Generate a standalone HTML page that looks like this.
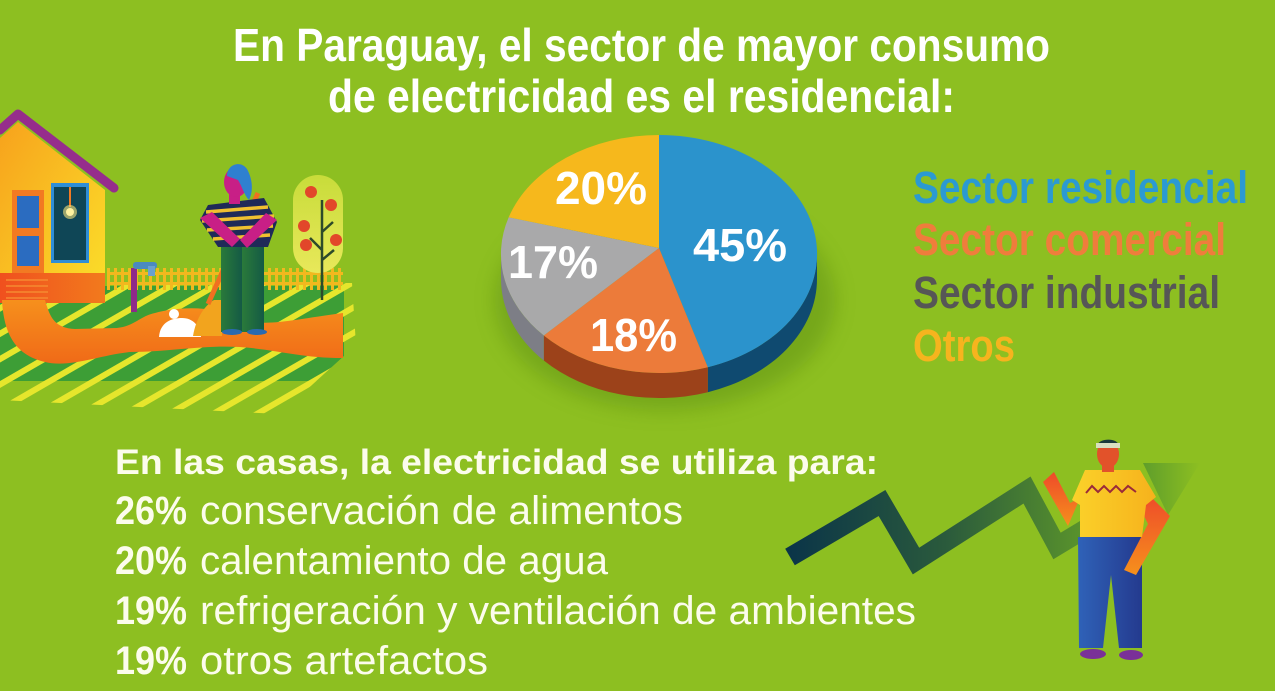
<!DOCTYPE html>
<html><head><meta charset="utf-8"><style>
html,body{margin:0;padding:0;background:#8dbf21;}
svg{display:block;}
text{font-family:"Liberation Sans",sans-serif;}
</style></head><body>
<svg width="1275" height="691" viewBox="0 0 1275 691" xmlns="http://www.w3.org/2000/svg">
<defs>
<linearGradient id="houseG" x1="0" y1="0" x2="1" y2="1"><stop offset="0" stop-color="#f7a21c"/><stop offset="1" stop-color="#fbe02a"/></linearGradient>
<linearGradient id="baseG" x1="0" y1="0" x2="1" y2="0"><stop offset="0" stop-color="#f0501e"/><stop offset="1" stop-color="#f27a1d"/></linearGradient>
<linearGradient id="pathG" x1="0" y1="0" x2="0" y2="1"><stop offset="0" stop-color="#f6901c"/><stop offset="1" stop-color="#f06a18"/></linearGradient>
<linearGradient id="zigG" x1="0" y1="0" x2="1" y2="0"><stop offset="0" stop-color="#0b3548"/><stop offset="0.5" stop-color="#2a5a3c"/><stop offset="1" stop-color="#5f9a2a"/></linearGradient>
<linearGradient id="arrowG" x1="0" y1="0" x2="1" y2="0"><stop offset="0" stop-color="#5a9a2c"/><stop offset="1" stop-color="#8dbf21"/></linearGradient>
<linearGradient id="shirtG" x1="0" y1="0" x2="1" y2="0"><stop offset="0" stop-color="#fbd22a"/><stop offset="1" stop-color="#f6b21c"/></linearGradient>
<linearGradient id="pantsG" x1="0" y1="0" x2="1" y2="0"><stop offset="0" stop-color="#2f62b8"/><stop offset="1" stop-color="#243a8e"/></linearGradient>
<linearGradient id="armG" x1="0" y1="0" x2="0" y2="1"><stop offset="0" stop-color="#ee4a2a"/><stop offset="1" stop-color="#f6901c"/></linearGradient>
<linearGradient id="wpantsG" x1="0" y1="0" x2="1" y2="0"><stop offset="0" stop-color="#2a7a3a"/><stop offset="1" stop-color="#145a45"/></linearGradient>
<linearGradient id="treeG" x1="0" y1="0" x2="0" y2="1"><stop offset="0" stop-color="#c8dc3a"/><stop offset="1" stop-color="#e8e85a"/></linearGradient>
<clipPath id="lawnClip"><polygon points="0,283 352,283 356,345 280,414 0,400"/></clipPath>
<pattern id="stripes" width="22" height="22" patternUnits="userSpaceOnUse" patternTransform="rotate(-30)"><rect width="22" height="22" fill="none"/><rect x="0" y="0" width="22" height="6" fill="#e6e62c"/></pattern>
<pattern id="fence" width="7" height="24" patternUnits="userSpaceOnUse" x="107" y="267"><rect x="0" y="0" width="3" height="24" fill="#f2b81e"/></pattern>
<filter id="blur" x="-20%" y="-20%" width="140%" height="140%"><feGaussianBlur stdDeviation="10"/></filter>
</defs>

<rect width="1275" height="691" fill="#8dbf21"/>

<!-- Title -->
<text x="233" y="61" font-size="46" font-weight="bold" fill="#ffffff" textLength="817" lengthAdjust="spacingAndGlyphs">En Paraguay, el sector de mayor consumo</text>
<text x="328" y="112" font-size="46" font-weight="bold" fill="#ffffff" textLength="627" lengthAdjust="spacingAndGlyphs">de electricidad es el residencial:</text>

<!-- Lawn -->
<g clip-path="url(#lawnClip)">
<rect x="0" y="286" width="344" height="95" fill="#3d9e36"/>
<rect x="0" y="270" width="360" height="150" fill="url(#stripes)"/>
</g>

<!-- Fence -->
<rect x="107" y="268" width="236" height="22" fill="url(#fence)"/>
<rect x="107" y="272" width="236" height="3" fill="#f2b81e"/>
<rect x="107" y="282" width="236" height="3" fill="#f2b81e"/>

<!-- Tree -->
<rect x="293" y="175" width="50" height="98" rx="25" fill="url(#treeG)"/>
<path d="M322,200 L322,300 M322,232 L333,222 M322,250 L310,238 M322,260 L334,250" stroke="#2d4a2a" stroke-width="2.5" fill="none"/>
<g fill="#e2472a">
<circle cx="311" cy="192" r="6"/><circle cx="331" cy="205" r="6"/><circle cx="304" cy="226" r="6"/><circle cx="306" cy="245" r="6"/><circle cx="336" cy="240" r="6"/>
</g>

<!-- Faucet -->
<rect x="131" y="268" width="6" height="44" fill="#8e2a8a"/>
<rect x="133" y="262" width="24" height="7" rx="3" fill="#4a8ac0"/>
<rect x="148" y="266" width="7" height="10" fill="#6aa0d0"/>

<!-- House -->
<polygon points="0,138 18,122 105,190 105,300 0,300" fill="url(#houseG)"/>
<polyline points="0,130 18,114 114,188" fill="none" stroke="#962d8c" stroke-width="9" stroke-linecap="round" stroke-linejoin="round"/>
<rect x="0" y="273" width="105" height="30" fill="url(#baseG)"/>
<g stroke="#f58a30" stroke-width="1.5"><line x1="6" y1="280" x2="48" y2="280"/><line x1="6" y1="286" x2="48" y2="286"/><line x1="6" y1="292" x2="48" y2="292"/><line x1="6" y1="298" x2="48" y2="298"/></g>
<rect x="12" y="190" width="32" height="83" fill="#f27a22"/>
<rect x="17" y="196" width="22" height="32" fill="#2b6cc0"/>
<rect x="17" y="236" width="22" height="30" fill="#2b6cc0"/>
<rect x="51" y="183" width="38" height="80" fill="#2f8ed6"/>
<rect x="54" y="187" width="32" height="73" fill="#0f4656"/>
<line x1="70" y1="187" x2="70" y2="207" stroke="#f27a22" stroke-width="2"/>
<circle cx="70" cy="212" r="7" fill="#f6e27a" opacity="0.6"/>
<circle cx="70" cy="212" r="4" fill="#fff2a0"/>

<!-- Orange path -->
<path d="M2,300 L45,300 C50,318 55,328 75,329 L117,328 C135,326 140,316 155,313 C180,306 215,306 240,318 C262,328 290,320 343,313 L343,358 C300,358 280,350 240,347 C200,345 170,352 130,352 C100,355 70,368 45,362 C20,356 4,340 2,300 Z" fill="url(#pathG)"/>

<!-- White blob & broom pile -->
<path d="M159,337 C160,322 172,318 182,318 C193,318 200,326 201,337 Z" fill="#ffffff"/>
<circle cx="174" cy="314" r="5" fill="#ffffff"/>
<path d="M193,336 C196,318 205,305 214,300 L222,300 L222,336 Z" fill="#f2a41e"/>

<!-- Woman -->
<line x1="258" y1="193" x2="208" y2="304" stroke="#f07020" stroke-width="5"/>
<rect x="221" y="244" width="21" height="88" fill="url(#wpantsG)"/>
<rect x="242" y="244" width="22" height="88" fill="url(#wpantsG)"/>
<ellipse cx="232" cy="332" rx="10" ry="3" fill="#2a6ab0"/>
<ellipse cx="257" cy="332" rx="10" ry="3" fill="#2a6ab0"/>
<path d="M208,205 L264,198 L277,222 L268,247 L218,247 L200,220 Z" fill="#1f2a58"/>
<g stroke="#f0c030" stroke-width="3.5"><line x1="206" y1="212" x2="268" y2="207"/><line x1="202" y1="221" x2="274" y2="216"/><line x1="207" y1="230" x2="273" y2="226"/><line x1="213" y1="239" x2="270" y2="235"/></g>
<path d="M200,218 L232,247 L240,239 L212,212 Z" fill="#c81f86"/>
<path d="M277,220 L247,248 L240,240 L266,213 Z" fill="#c81f86"/>
<rect x="229" y="190" width="11" height="14" fill="#c81f86"/>
<ellipse cx="236" cy="182" rx="12" ry="15" fill="#c81f86"/>
<path d="M227,176 C227,164 241,160 247,169 C252,178 254,190 249,200 C244,195 242,186 238,180 Z" fill="#2f80d0"/>

<!-- Pie shadow -->
<ellipse cx="665" cy="300" rx="170" ry="110" fill="#4a7a10" opacity="0.35" filter="url(#blur)"/>

<!-- Pie sides -->
<path d="M817,254 A158,119 0 0 1 707.8,367.2 L707.8,392.2 A158,119 0 0 0 817,279 Z" fill="#0f4a70"/>
<path d="M707.8,367.2 A158,119 0 0 1 543.8,335.5 L543.8,360.5 A158,119 0 0 0 707.8,392.2 Z" fill="#9c421a"/>
<path d="M543.8,335.5 A158,119 0 0 1 501,254 L501,279 A158,119 0 0 0 543.8,360.5 Z" fill="#7d7e86"/>

<!-- Pie top -->
<path d="M659,248 L659,135 A158,119 0 0 1 707.8,367.2 Z" fill="#2b93cc"/>
<path d="M659,248 L707.8,367.2 A158,119 0 0 1 543.8,335.5 Z" fill="#ec7b3a"/>
<path d="M659,248 L543.8,335.5 A158,119 0 0 1 508.7,217.2 Z" fill="#a9a9aa"/>
<path d="M659,248 L508.7,217.2 A158,119 0 0 1 659,135 Z" fill="#f6b81c"/>

<g font-weight="bold" fill="#ffffff" font-size="46">
<text x="693" y="261" textLength="94" lengthAdjust="spacingAndGlyphs">45%</text>
<text x="555" y="204" textLength="92" lengthAdjust="spacingAndGlyphs">20%</text>
<text x="508" y="278" textLength="90" lengthAdjust="spacingAndGlyphs">17%</text>
<text x="590" y="351" textLength="87" lengthAdjust="spacingAndGlyphs">18%</text>
</g>

<!-- Legend -->
<g font-weight="bold" font-size="45">
<text x="913" y="203" fill="#2b9ad2" textLength="335" lengthAdjust="spacingAndGlyphs">Sector residencial</text>
<text x="913" y="255" fill="#ef7d3c" textLength="313" lengthAdjust="spacingAndGlyphs">Sector comercial</text>
<text x="913" y="308" fill="#565656" textLength="307" lengthAdjust="spacingAndGlyphs">Sector industrial</text>
<text x="913" y="361" fill="#f6b41e" textLength="102" lengthAdjust="spacingAndGlyphs">Otros</text>
</g>

<!-- Bottom text -->
<g fill="#fcfcec">
<text x="115" y="474" font-size="35" font-weight="bold" textLength="763" lengthAdjust="spacingAndGlyphs">En las casas, la electricidad se utiliza para:</text>
<text x="115" y="524" font-size="40" font-weight="bold" textLength="72" lengthAdjust="spacingAndGlyphs">26%</text>
<text x="200" y="524" font-size="40" textLength="483" lengthAdjust="spacingAndGlyphs">conservación de alimentos</text>
<text x="115" y="574" font-size="40" font-weight="bold" textLength="72" lengthAdjust="spacingAndGlyphs">20%</text>
<text x="200" y="574" font-size="40" textLength="408" lengthAdjust="spacingAndGlyphs">calentamiento de agua</text>
<text x="115" y="624" font-size="40" font-weight="bold" textLength="72" lengthAdjust="spacingAndGlyphs">19%</text>
<text x="200" y="624" font-size="40" textLength="716" lengthAdjust="spacingAndGlyphs">refrigeración y ventilación de ambientes</text>
<text x="115" y="674" font-size="40" font-weight="bold" textLength="72" lengthAdjust="spacingAndGlyphs">19%</text>
<text x="200" y="674" font-size="40" textLength="288" lengthAdjust="spacingAndGlyphs">otros artefactos</text>
</g>

<!-- Zigzag -->
<polyline points="790,557 882,503 916,561 1027,490 1057,546 1100,520" fill="none" stroke="url(#zigG)" stroke-width="19" stroke-linejoin="miter"/>
<polygon points="1143,463 1200,463 1168,515" fill="url(#arrowG)" opacity="0.9"/>

<!-- Man -->
<path d="M1078,537 L1142,537 L1142,648 L1119,648 L1111,575 L1103,648 L1079,648 Z" fill="url(#pantsG)"/>
<ellipse cx="1093" cy="654" rx="13" ry="5" fill="#7a3098"/>
<ellipse cx="1131" cy="655" rx="12" ry="5" fill="#7a3098"/>
<path d="M1148,494 L1170,516 L1136,575 L1124,570 L1148,524 L1140,508 Z" fill="url(#armG)"/>
<path d="M1080,498 L1068,526 L1043,482 L1054,472 L1070,503 Z" fill="url(#armG)"/>
<path d="M1085,470 L1140,470 L1156,497 L1146,505 L1142,537 L1080,537 L1080,505 L1072,500 Z" fill="url(#shirtG)"/>
<polyline points="1086,493 1092,486 1098,492 1104,486 1110,492 1116,486 1122,492 1128,486 1136,492" fill="none" stroke="#9a2a3a" stroke-width="2"/>
<rect x="1102" y="460" width="12" height="12" fill="#e2522a"/>
<ellipse cx="1108" cy="454" rx="11" ry="14" fill="#e2522a"/>
<path d="M1097,446 C1098,438 1118,437 1119,446 Z" fill="#1a3a3a"/>
<rect x="1096" y="443" width="24" height="5" fill="#d8e0c0"/>
</svg>
</body></html>
